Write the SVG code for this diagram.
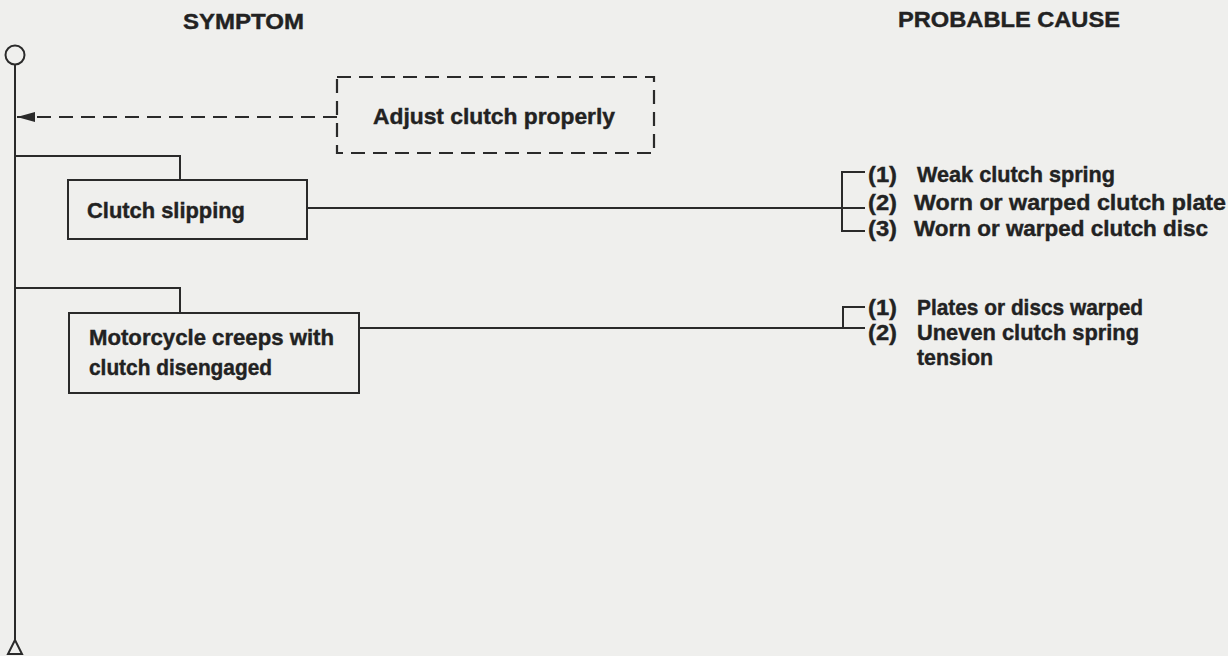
<svg xmlns="http://www.w3.org/2000/svg" width="1228" height="656" viewBox="0 0 1228 656">
<style>
text{font-family:"Liberation Sans",Arial,sans-serif;font-weight:bold;font-size:21.5px;fill:#222;stroke:#222;stroke-width:0.4}
.ln{fill:none;stroke:#2a2a2a;stroke-width:2}
.box{fill:none;stroke:#2a2a2a;stroke-width:2}
.dash{fill:none;stroke:#2a2a2a;stroke-width:2.2;stroke-dasharray:14 8}
</style>
<defs>
<marker id="ah" markerWidth="20" markerHeight="12" refX="19" refY="6" orient="auto" markerUnits="userSpaceOnUse">
<path d="M19,6 L1,1 L1,11 Z" fill="#2a2a2a"/>
</marker>
</defs>
<rect width="1228" height="656" fill="#efefed"/>
<g id="headers">
<text x="183" y="29" textLength="121" lengthAdjust="spacingAndGlyphs">SYMPTOM</text>
<text x="898" y="27" textLength="222" lengthAdjust="spacingAndGlyphs">PROBABLE CAUSE</text>
</g>
<g id="spine">
<circle cx="15" cy="55" r="9.5" class="ln"/>
<line x1="15" y1="64.5" x2="15" y2="640" class="ln"/>
<path d="M15,640 L8,654 L22,654 Z" class="ln" stroke-linejoin="miter"/>
</g>
<g id="connectors">
<line x1="337" y1="117" x2="17" y2="117" class="dash" marker-end="url(#ah)"/>
<polyline points="15,156 180,156 180,180" class="ln"/>
<polyline points="15,288 180,288 180,313" class="ln"/>
<line x1="307" y1="208" x2="842" y2="208" class="ln"/>
<line x1="359" y1="328" x2="843" y2="328" class="ln"/>
<polyline points="865,172 842,172 842,231 865,231" class="ln"/>
<line x1="842" y1="208" x2="865" y2="208" class="ln"/>
<polyline points="865,307 843,307 843,328 865,328" class="ln"/>
</g>
<g id="adjust">
<rect x="337" y="77" width="317" height="76" class="dash"/>
<text x="373" y="124" textLength="242" lengthAdjust="spacingAndGlyphs">Adjust clutch properly</text>
</g>
<g id="clutch-slipping">
<rect x="68" y="180" width="239" height="59" class="box"/>
<text x="87" y="218" textLength="158" lengthAdjust="spacingAndGlyphs">Clutch slipping</text>
</g>
<g id="motorcycle-creeps">
<rect x="69" y="313" width="290" height="80" class="box"/>
<text x="89" y="345" textLength="245" lengthAdjust="spacingAndGlyphs">Motorcycle creeps with</text>
<text x="89" y="375" textLength="183" lengthAdjust="spacingAndGlyphs">clutch disengaged</text>
</g>
<g id="causes-slipping">
<text x="868" y="182" textLength="29" lengthAdjust="spacingAndGlyphs">(1)</text>
<text x="917" y="182" textLength="198" lengthAdjust="spacingAndGlyphs">Weak clutch spring</text>
<text x="868" y="210" textLength="29" lengthAdjust="spacingAndGlyphs">(2)</text>
<text x="914" y="210" textLength="312" lengthAdjust="spacingAndGlyphs">Worn or warped clutch plate</text>
<text x="868" y="236" textLength="29" lengthAdjust="spacingAndGlyphs">(3)</text>
<text x="914" y="236" textLength="294" lengthAdjust="spacingAndGlyphs">Worn or warped clutch disc</text>
</g>
<g id="causes-creeps">
<text x="868" y="315" textLength="29" lengthAdjust="spacingAndGlyphs">(1)</text>
<text x="917" y="315" textLength="226" lengthAdjust="spacingAndGlyphs">Plates or discs warped</text>
<text x="868" y="340" textLength="29" lengthAdjust="spacingAndGlyphs">(2)</text>
<text x="917" y="340" textLength="222" lengthAdjust="spacingAndGlyphs">Uneven clutch spring</text>
<text x="917" y="365" textLength="76" lengthAdjust="spacingAndGlyphs">tension</text>
</g>
</svg>
